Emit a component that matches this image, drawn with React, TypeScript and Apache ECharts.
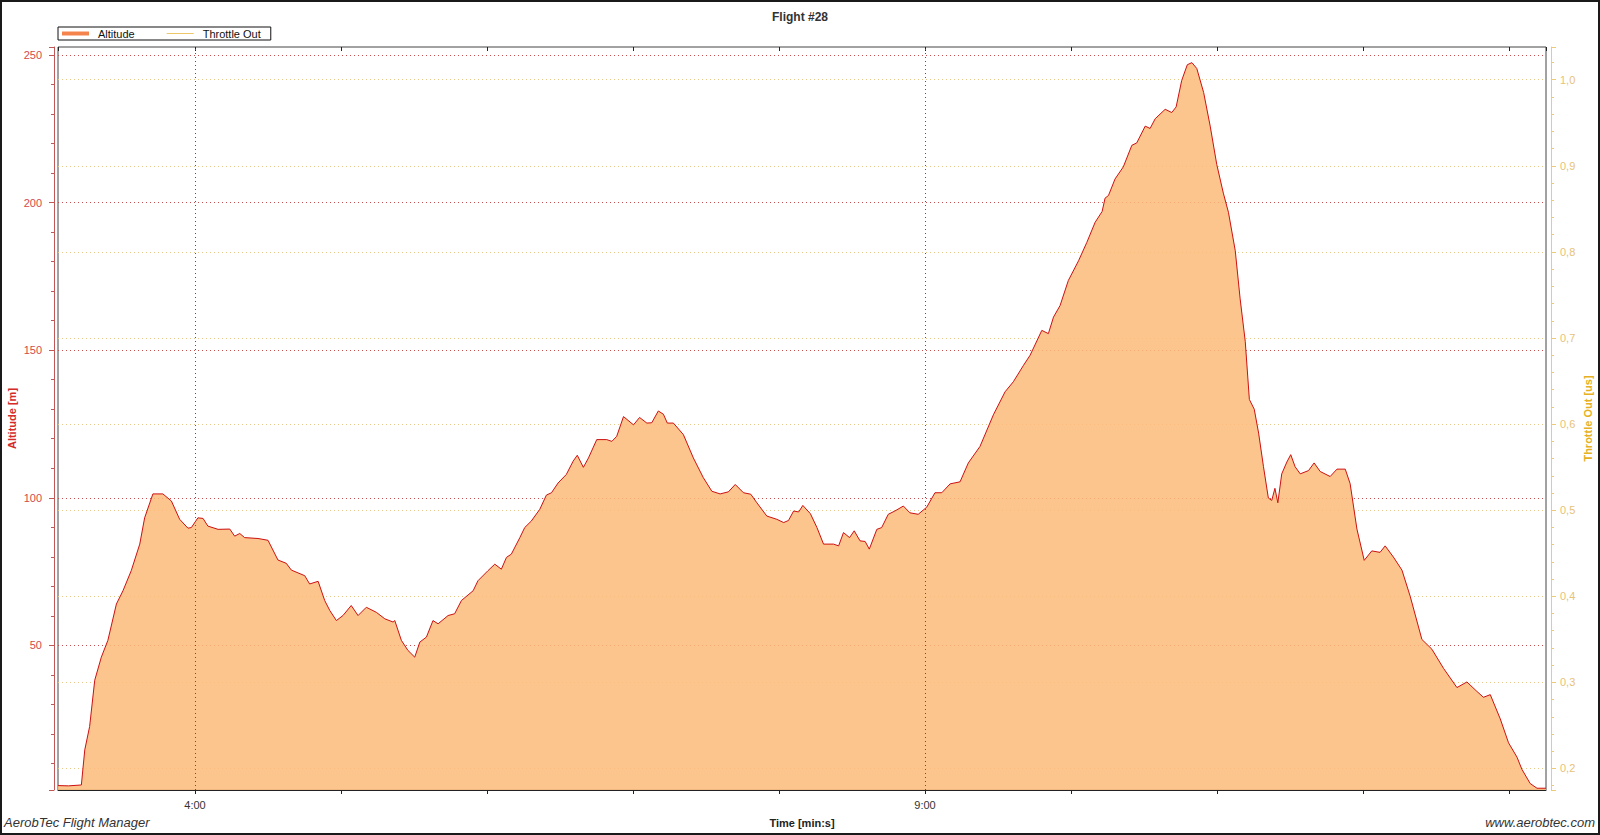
import React, { useEffect, useRef } from "react";
import * as echarts from "echarts";

// ---- data (time in seconds since start, altitude in metres) ----
const timeSeconds: number[] = [
  183.7, 188, 193.3, 194.7, 196.7, 198.8, 201.5, 204.2, 207.7, 210.4, 213.8, 217.3, 219.3, 222.7, 226.8,
  230.3, 233.7, 237.1, 238.5, 241.2, 243.3, 245.3, 249.5, 254.3, 256.3, 258.4, 260.4, 265.9, 270, 274.1,
  277.5, 279.6, 285.1, 287.1, 290.6, 293.3, 295.4, 298.1, 300.8, 304.2, 307, 310.4, 314.5, 318, 321.4,
  322.1, 324.8, 327.5, 330.3, 332.4, 335.1, 337.8, 339.9, 344, 346.7, 349.5, 354.3, 356.3, 360.4, 363.2,
  365.9, 368, 370, 373.5, 375.5, 378.2, 381.7, 384.4, 386.5, 389.2, 392.6, 395.4, 397.1, 399.6, 401.7,
  405.1, 409.2, 411.3, 413.3, 416.1, 420.2, 422.7, 425.7, 427.7, 430.4, 432.5, 434.1, 436.6, 440.7, 444.8,
  448.9, 452.4, 455.8, 459.2, 462, 465.4, 468.4, 470.9, 475, 479.1, 481.9, 483.9, 486, 488.1, 489.8,
  492.9, 495.6, 498.3, 502.4, 504.5, 506.5, 509, 510.9, 513.3, 515.4, 517.1, 520.2, 522.2, 524.9, 527.6,
  531.1, 533.8, 537.2, 540.7, 544.1, 546.9, 550.3, 554.4, 557.8, 562.6, 568.1, 572.9, 576.3, 580.5, 583.2,
  588, 590.7, 592.8, 595.5, 598.9, 603.1, 606.5, 609.9, 612.8, 614, 615.4, 618.1, 621.5, 625, 627,
  630.5, 632.5, 634.6, 638.7, 641.4, 643.2, 645.5, 647.8, 649.7, 651.7, 654.5, 657.2, 659.9, 662.6, 664.7,
  667.5, 669.5, 671.6, 673.3, 675.3, 677.1, 679.1, 681.1, 682.5, 683.8, 685, 686.6, 688.7, 690.3, 692.1,
  694.2, 697.6, 699.9, 702.4, 706.5, 709.3, 712.7, 714.7, 717.5, 720.5, 723.6, 727, 729.1, 732.5, 736,
  739.4, 744.2, 748.3, 753.1, 758.6, 762.7, 766.8, 769.5, 772.3, 776.4, 779.8, 783.3, 785.3, 788.7, 791.5,
  795.2,
];

const altitudeMeters: number[] = [
  2.5, 2.4, 2.7, 14.6, 22.5, 38.2, 46, 51.7, 64, 68.5, 75.3, 84.3, 93.2, 101.3, 101.3,
  98.9, 92.7, 89.7, 89.9, 93.2, 93, 90.4, 89.3, 89.4, 87, 87.9, 86.5, 86.2, 85.6, 78.9,
  77.8, 75.5, 73.6, 70.8, 71.7, 65.2, 61.8, 58.4, 60.1, 63.5, 60.1, 62.9, 61.2, 59, 57.9,
  58.4, 51.7, 48.3, 46, 51.1, 52.8, 58.4, 57.3, 60.1, 60.7, 65.2, 68.5, 71.9, 75.3, 77.5,
  75.8, 79.8, 80.9, 86.5, 89.9, 92.1, 96.1, 100.9, 101.7, 105, 107.9, 112.4, 114.4, 110.3, 113.5,
  119.7, 119.7, 119.1, 120.8, 127.5, 124.7, 127.2, 125.3, 125.4, 129.4, 128.3, 125.3, 125.3, 121.4, 113.5,
  106.8, 102.2, 101.3, 102, 104.5, 101.7, 101.2, 98.3, 93.8, 92.7, 91.6, 92.3, 95.5, 95.2, 97.4,
  94.6, 89.9, 84.3, 84.3, 83.7, 88.2, 86.5, 88.8, 85.4, 85.2, 82.6, 89.3, 89.9, 94.4, 95.5,
  97.2, 94.9, 94.4, 96.8, 101.7, 101.7, 104.7, 105.4, 111.8, 117.4, 128.1, 135.9, 139.3, 144.9, 148.3,
  156.7, 155.6, 161.2, 165.1, 173.6, 180.3, 186.5, 193.3, 197, 201.5, 202.4, 208, 212.1, 219.4, 220.2,
  225.9, 225.1, 228.4, 231.6, 230.5, 232.4, 241.4, 246.7, 247.4, 245.4, 237.3, 225.9, 212.9, 203.2, 196.7,
  183.7, 167.4, 153, 133.3, 130, 121.9, 110.5, 99.9, 99.1, 103.2, 98.3, 108.1, 112.1, 114.6, 110.5,
  108.1, 109.2, 111.8, 108.9, 107.2, 109.7, 109.7, 104.8, 89.4, 78.8, 82, 81.5, 83.7, 79.9, 75.5,
  66.6, 52, 48.7, 42.2, 35.7, 37.6, 34.4, 32.4, 33.3, 25.1, 17, 12.1, 8, 3.2, 1.6,
  1.6,
];

const throttleOut: number[] = [];

const seriesNames = ["Altitude", "Throttle Out"];
const labeledTimes = [240, 540];
const timeRange = [183.7, 795.2];
const altitudeRange = [1, 252.7];
const throttleRange = [0.175, 1.038];

const FONT = "'Liberation Sans', Arial, Helvetica, sans-serif";

const fmtTime = (v: number) => {
  const m = Math.floor(v / 60 + 1e-6);
  const s = Math.round(v - m * 60);
  return `${m}:${String(s).padStart(2, "0")}`;
};

export default function App() {
  const ref = useRef<HTMLDivElement>(null);

  useEffect(() => {
    if (!ref.current) return;
    const chart = echarts.init(ref.current, undefined, { renderer: "svg" });

    const altitudeData = timeSeconds.map((t, i) => [t, altitudeMeters[i]]);
    const throttleData = throttleOut.map((v, i) => [timeSeconds[i], v]);

    chart.setOption({
      animation: false,
      backgroundColor: "#ffffff",
      textStyle: { fontFamily: FONT },
      title: {
        text: "Flight #28",
        left: "center",
        top: 6,
        textStyle: { fontSize: 12, fontWeight: "bold", color: "#333", fontFamily: FONT },
      },
      legend: {
        left: 58,
        top: 27,
        orient: "horizontal",
        padding: [1, 10, 1, 4],
        itemWidth: 27,
        itemHeight: 12,
        itemGap: 32,
        borderColor: "#111",
        borderWidth: 1,
        borderRadius: 0,
        textStyle: { fontSize: 11, color: "#111", fontFamily: FONT, padding: [0, 0, 0, 4] },
        data: [
          {
            name: seriesNames[0],
            icon: "path://M0,0h27v4h-27z",
            itemStyle: { color: "#f4844c", borderWidth: 0 },
          },
          {
            name: seriesNames[1],
            icon: "path://M0,0h27v1h-27z",
            itemStyle: { color: "#ecc86a", borderWidth: 0 },
          },
        ],
      },
      grid: {
        left: 58,
        right: 54,
        top: 47,
        bottom: 45,
        containLabel: false,
        outerBoundsMode: "none",
        show: true,
        borderColor: "#444",
        borderWidth: 1,
        backgroundColor: "transparent",
      },
      xAxis: [
        {
          type: "value",
          position: "bottom",
          min: timeRange[0],
          max: timeRange[1],
          minInterval: 60,
          maxInterval: 60,
          splitNumber: 10,
          name: "Time [min:s]",
          nameLocation: "middle",
          nameGap: 27,
          nameMoveOverlap: false,
          nameTextStyle: { fontSize: 11, fontWeight: "bold", color: "#222", fontFamily: FONT },
          axisLine: { show: true, lineStyle: { color: "#222", width: 1 } },
          axisTick: { show: true, inside: false, length: 4, lineStyle: { color: "#222" } },
          axisLabel: {
            show: true,
            margin: 9,
            fontSize: 11,
            color: "#333",
            fontFamily: FONT,
            showMinLabel: false,
            showMaxLabel: false,
            formatter: (v: number) =>
              labeledTimes.some((t) => Math.abs(t - v) < 0.01) ? fmtTime(v) : "",
          },
          splitLine: { show: false },
        },
        {
          type: "value",
          position: "top",
          min: timeRange[0],
          max: timeRange[1],
          minInterval: 60,
          maxInterval: 60,
          splitNumber: 10,
          axisLine: { show: false },
          axisTick: { show: true, inside: true, length: 4, lineStyle: { color: "#222" } },
          axisLabel: { show: false },
          splitLine: { show: false },
        },
      ],
      yAxis: [
        {
          type: "value",
          position: "left",
          offset: 4,
          min: altitudeRange[0],
          max: altitudeRange[1],
          minInterval: 50,
          maxInterval: 50,
          splitNumber: 5,
          name: "Altitude [m]",
          nameLocation: "middle",
          nameRotate: 90,
          nameGap: 37,
          nameMoveOverlap: false,
          nameTextStyle: { fontSize: 11, fontWeight: "bold", color: "#d42a2a", fontFamily: FONT },
          axisLine: { show: true, lineStyle: { color: "#c05858", width: 1 } },
          axisTick: { show: true, inside: false, length: 5, lineStyle: { color: "#c05858" } },
          minorTick: { show: true, splitNumber: 5, length: 3, lineStyle: { color: "#c05858" } },
          axisLabel: {
            margin: 12,
            fontSize: 11,
            color: "#d44a4a",
            fontFamily: FONT,
            showMinLabel: false,
            showMaxLabel: false,
          },
          splitLine: {
            show: true,
            showMinLine: false,
            showMaxLine: false,
            lineStyle: { color: "#c85050", type: [1, 3], width: 1 },
          },
        },
        {
          type: "value",
          position: "right",
          offset: 5,
          min: throttleRange[0],
          max: throttleRange[1],
          minInterval: 0.1,
          maxInterval: 0.1,
          splitNumber: 8,
          name: "Throttle Out [us]",
          nameLocation: "middle",
          nameRotate: 90,
          nameGap: 31,
          nameMoveOverlap: false,
          nameTextStyle: { fontSize: 11, fontWeight: "bold", color: "#e6b024", fontFamily: FONT },
          axisLine: { show: true, lineStyle: { color: "#eccb78", width: 1 } },
          axisTick: { show: true, inside: false, length: 5, lineStyle: { color: "#eccb78" } },
          minorTick: { show: true, splitNumber: 5, length: 3, lineStyle: { color: "#eccb78" } },
          axisLabel: {
            margin: 9,
            fontSize: 11,
            color: "#e7c278",
            fontFamily: FONT,
            showMinLabel: false,
            showMaxLabel: false,
            formatter: (v: number) => v.toFixed(1).replace(".", ","),
          },
          splitLine: {
            show: true,
            showMinLine: false,
            showMaxLine: false,
            lineStyle: { color: "#e8c888", type: [1, 3], width: 1 },
          },
        },
      ],
      series: [
        {
          name: seriesNames[0],
          type: "line",
          xAxisIndex: 0,
          yAxisIndex: 0,
          data: altitudeData,
          showSymbol: false,
          symbol: "none",
          smooth: false,
          lineStyle: { color: "#cc1010", width: 1 },
          itemStyle: { color: "#f4844c" },
          areaStyle: { color: "#fdbb7b", opacity: 0.86, origin: "start" },
          markLine: {
            silent: true,
            symbol: "none",
            label: { show: false },
            lineStyle: { color: "#555", type: [1, 3], width: 1 },
            data: labeledTimes.map((t) => ({ xAxis: t })),
          },
          z: 2,
        },
        {
          name: seriesNames[1],
          type: "line",
          xAxisIndex: 0,
          yAxisIndex: 1,
          data: throttleData,
          showSymbol: false,
          lineStyle: { color: "#ecc86a", width: 1 },
          itemStyle: { color: "#ecc86a" },
        },
      ],
      graphic: [
        {
          type: "rect",
          shape: { x: 1, y: 1, width: 1598, height: 833 },
          style: { fill: "none", stroke: "#1a1a1a", lineWidth: 2 },
          silent: true,
          z: 100,
        },
        {
          type: "text",
          left: 4,
          top: 816,
          style: {
            text: "AerobTec Flight Manager",
            font: `italic 13px ${FONT}`,
            fill: "#333",
          },
        },
        {
          type: "text",
          right: 5,
          top: 816,
          style: {
            text: "www.aerobtec.com",
            font: `italic 13px ${FONT}`,
            fill: "#333",
          },
        },
      ],
    });

    return () => chart.dispose();
  }, []);

  return (
    <div
      ref={ref}
      style={{ position: "absolute", left: 0, top: 0, width: 1600, height: 835, background: "#fff" }}
    />
  );
}
